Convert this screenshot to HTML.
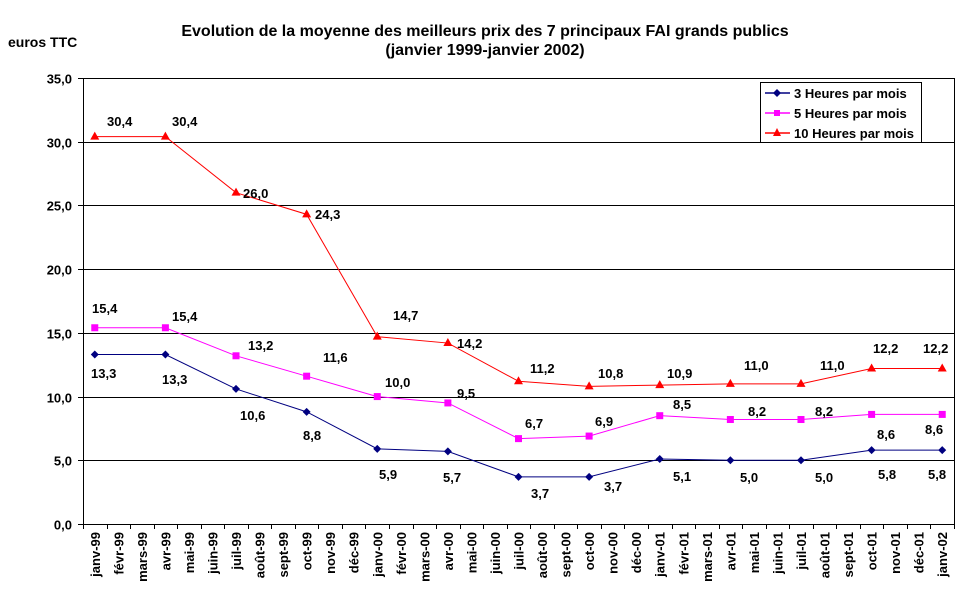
<!DOCTYPE html>
<html><head><meta charset="utf-8"><style>
body{margin:0;background:#fff}
svg{display:block;font-family:"Liberation Sans",Arial,sans-serif;font-weight:bold}
</style></head><body>
<svg width="969" height="603" viewBox="0 0 969 603" xmlns="http://www.w3.org/2000/svg">
<rect width="969" height="603" fill="#fff"/>
<text x="485" y="36" font-size="16" text-anchor="middle">Evolution de la moyenne des meilleurs prix des 7 principaux FAI grands publics</text>
<text x="485" y="55" font-size="16" text-anchor="middle">(janvier 1999-janvier 2002)</text>
<text x="8" y="47" font-size="14">euros TTC</text>
<g id="grid" stroke="#000" stroke-width="1"></g>
<g id="yl" font-size="13" text-anchor="end"></g>
<g id="xl" font-size="13"></g>
<g id="series"></g>
<g id="labels" font-size="13"></g>
<g>
<rect x="760.5" y="82.5" width="161" height="60" fill="#fff" stroke="#000"/>
<line x1="765" y1="93" x2="790" y2="93" stroke="#000080" stroke-width="1.5"/>
<path d="M777 89 L781 93 L777 97 L773 93Z" fill="#000080"/>
<text x="794" y="98" font-size="13">3 Heures par mois</text>
<line x1="765" y1="113" x2="790" y2="113" stroke="#ff00ff" stroke-width="1.5"/>
<rect x="774" y="110" width="6" height="6" fill="#ff00ff"/>
<text x="794" y="118" font-size="13">5 Heures par mois</text>
<line x1="765" y1="133" x2="790" y2="133" stroke="#ff0000" stroke-width="1.5"/>
<path d="M777 128 L781 136 L773 136Z" fill="#ff0000"/>
<text x="794" y="138" font-size="13">10 Heures par mois</text>
</g>
</svg>
<script>
const NS="http://www.w3.org/2000/svg";
function el(p,t,a,txt){const e=document.createElementNS(NS,t);for(const k in a)e.setAttribute(k,a[k]);if(txt!=null)e.textContent=txt;document.getElementById(p).appendChild(e);return e;}
const L=83,R=954,T=78,B=524;
const Y=v=>B-(B-T)*v/35;
const W=(R-L)/37;
const X=i=>L+W*(i+0.5);
for(let v=0;v<=35;v+=5){const y=Math.round(Y(v))+0.5;
 if(v>0)el("grid","line",{x1:L,y1:y,x2:R,y2:y});
 el("grid","line",{x1:L-5,y1:y,x2:L,y2:y});
 el("yl","text",{x:72,y:y+5},v.toFixed(1).replace(".",","));}
el("grid","line",{x1:L+.5,y1:T,x2:L+.5,y2:B});
el("grid","line",{x1:R+.5,y1:T,x2:R+.5,y2:B});
el("grid","line",{x1:L,y1:B+.5,x2:R,y2:B+.5});
const months=["janv","févr","mars","avr","mai","juin","juil","août","sept","oct","nov","déc"];
for(let i=0;i<=37;i++){const x=Math.round(L+W*i)+.5;el("grid","line",{x1:x,y1:B,x2:x,y2:B+5});}
for(let i=0;i<37;i++){const yy=(99+Math.floor(i/12))%100;const s=months[i%12]+"-"+(yy<10?"0"+yy:yy);
 const x=X(i)+5;el("xl","text",{x:x,y:532,transform:`rotate(-90 ${x} 532)`,"text-anchor":"end"},s);}
const idx=[0,3,6,9,12,15,18,21,24,27,30,33,36];
const d3=[13.3,13.3,10.6,8.8,5.9,5.7,3.7,3.7,5.1,5.0,5.0,5.8,5.8];
const d5=[15.4,15.4,13.2,11.6,10.0,9.5,6.7,6.9,8.5,8.2,8.2,8.6,8.6];
const d10=[30.4,30.4,26.0,24.3,14.7,14.2,11.2,10.8,10.9,11.0,11.0,12.2,12.2];
function line(d,c){el("series","polyline",{points:d.map((v,k)=>X(idx[k])+","+Y(v)).join(" "),fill:"none",stroke:c,"stroke-width":1});}
line(d3,"#000080");line(d5,"#ff00ff");line(d10,"#ff0000");
d3.forEach((v,k)=>{const x=X(idx[k]),y=Y(v);el("series","path",{d:`M${x} ${y-4}L${x+4} ${y}L${x} ${y+4}L${x-4} ${y}Z`,fill:"#000080"});});
d5.forEach((v,k)=>{const x=X(idx[k]),y=Y(v);el("series","rect",{x:x-3.5,y:y-3.5,width:7,height:7,fill:"#ff00ff"});});
d10.forEach((v,k)=>{const x=X(idx[k]),y=Y(v);el("series","path",{d:`M${x} ${y-5}L${x+4.5} ${y+3}L${x-4.5} ${y+3}Z`,fill:"#ff0000"});});
const lab10=[[107,121],[172,121],[243,193],[315,214],[393,315],[457,343],[530,368],[598,373],[667,373],[744,365],[820,365],[873,348],[923,348]];
const lab5=[[92,308],[172,316],[248,345],[323,357],[385,382],[457,393],[525,423],[595,421],[673,404],[748,411],[815,411],[877,434],[925,429]];
const lab3=[[91,373],[162,379],[240,415],[303,435],[379,474],[443,477],[531,493],[604,486],[673,476],[740,477],[815,477],[878,474],[928,474]];
function labs(a,d){a.forEach((p,k)=>el("labels","text",{x:p[0],y:p[1]+5},d[k].toFixed(1).replace(".",",")));}
labs(lab10,d10);labs(lab5,d5);labs(lab3,d3);
</script>
</body></html>
